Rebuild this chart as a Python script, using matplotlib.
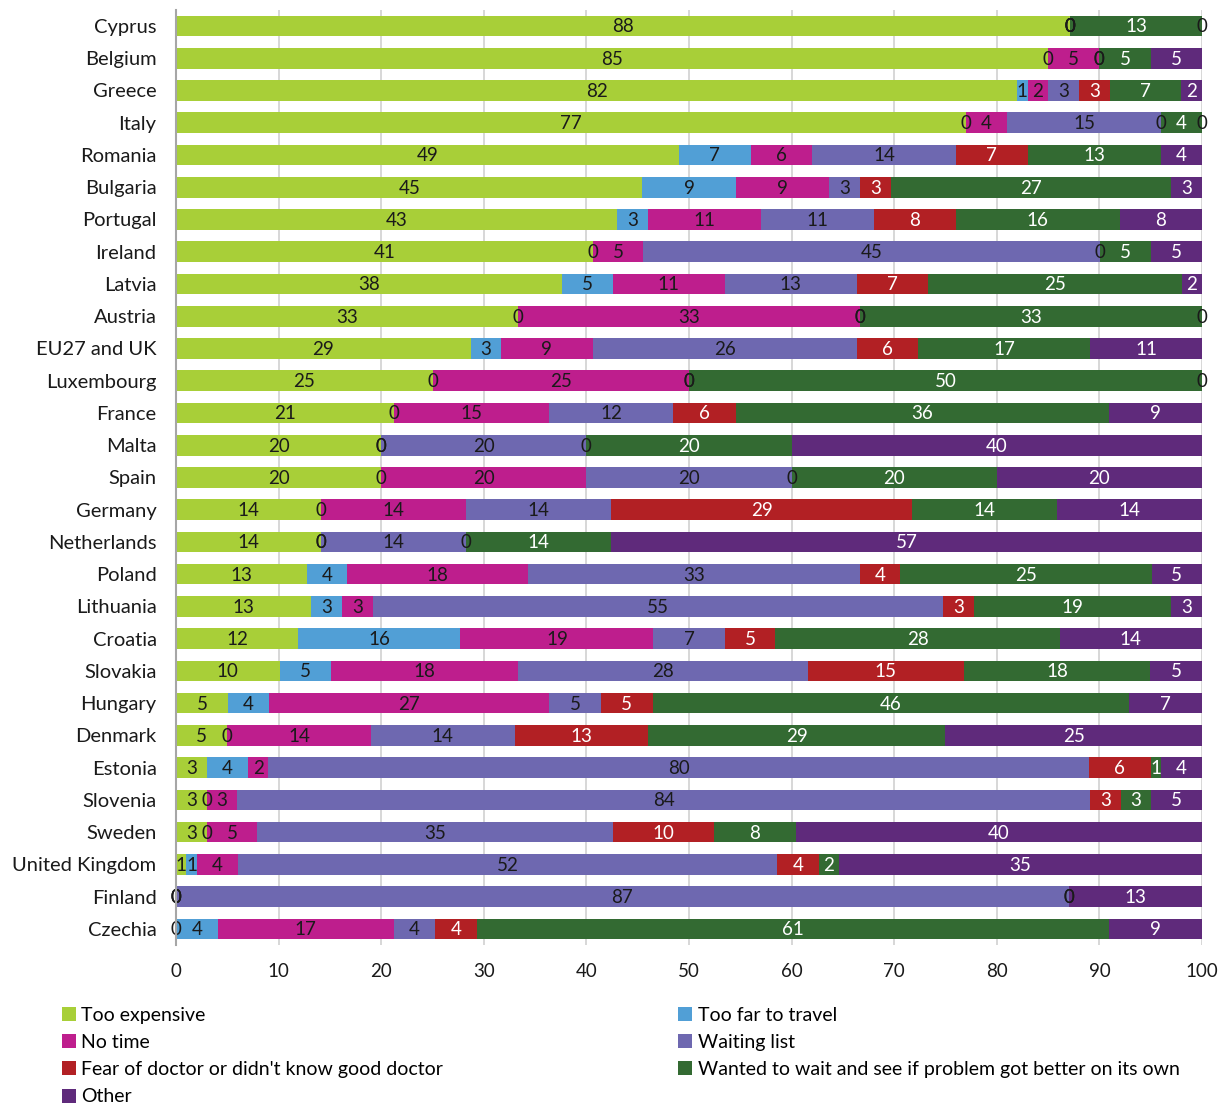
import matplotlib.pyplot as plt
from matplotlib.lines import Line2D
import numpy as np

plt.rcParams['font.family'] = ['Lato', 'DejaVu Sans']

# countries from top to bottom
countries = ["Cyprus", "Belgium", "Greece", "Italy", "Romania", "Bulgaria", "Portugal",
             "Ireland", "Latvia", "Austria", "EU27 and UK", "Luxembourg", "France", "Malta",
             "Spain", "Germany", "Netherlands", "Poland", "Lithuania", "Croatia", "Slovakia",
             "Hungary", "Denmark", "Estonia", "Slovenia", "Sweden", "United Kingdom",
             "Finland", "Czechia"]

too_expensive = [88, 85, 82, 77, 49, 45, 43, 41, 38, 33, 29, 25, 21, 20, 20, 14, 14,
                 13, 13, 12, 10, 5, 5, 3, 3, 3, 1, 0, 0]
too_far = [0, 0, 1, 0, 7, 9, 3, 0, 5, 0, 3, 0, 0, 0, 0, 0, 0,
           4, 3, 16, 5, 4, 0, 4, 0, 0, 1, 0, 4]
no_time = [0, 5, 2, 4, 6, 9, 11, 5, 11, 33, 9, 25, 15, 0, 20, 14, 0,
           18, 3, 19, 18, 27, 14, 2, 3, 5, 4, 0, 17]
waiting_list = [0, 0, 3, 15, 14, 3, 11, 45, 13, 0, 26, 0, 12, 20, 20, 14, 14,
                33, 55, 7, 28, 5, 14, 80, 84, 35, 52, 87, 4]
fear = [0, 0, 3, 0, 7, 3, 8, 0, 7, 0, 6, 0, 6, 0, 0, 29, 0,
        4, 3, 5, 15, 5, 13, 6, 3, 10, 4, 0, 4]
wait_and_see = [13, 5, 7, 4, 13, 27, 16, 5, 25, 33, 17, 50, 36, 20, 20, 14, 14,
                25, 19, 28, 18, 46, 29, 1, 3, 8, 2, 0, 61]
other = [0, 5, 2, 0, 4, 3, 8, 5, 2, 0, 11, 0, 9, 40, 20, 14, 57,
         5, 3, 14, 5, 7, 25, 4, 5, 40, 35, 13, 9]

series_names = ["Too expensive", "Too far to travel", "No time", "Waiting list",
                "Fear of doctor or didn't know good doctor",
                "Wanted to wait and see if problem got better on its own", "Other"]
colors = ["#a8cf38", "#519fd6", "#be1e8d", "#6e68b0", "#b22024", "#336a32", "#5f2a7b"]
text_colors = ["#1a1a1a", "#1a1a1a", "#1a1a1a", "#1a1a1a", "white", "white", "white"]

vals = np.array([too_expensive, too_far, no_time, waiting_list, fear,
                 wait_and_see, other]).T
pct = vals / vals.sum(axis=1, keepdims=True) * 100

fig = plt.figure(figsize=(12.26, 11.08), dpi=100)
ax = fig.add_axes([0.1436, 0.1471, 0.8368, 0.844])

y = np.arange(len(countries))
left = np.zeros(len(countries))
for j, name in enumerate(series_names):
    ax.barh(y, pct[:, j], left=left, height=0.64, color=colors[j],
            label=name, zorder=2)
    for i in range(len(countries)):
        v = vals[i, j]
        tc = text_colors[j] if v > 0 else "#1a1a1a"
        ax.text(left[i] + pct[i, j] / 2, y[i] + 0.03, str(v), ha="center", va="center",
                fontsize=13.5, color=tc, zorder=3, clip_on=False)
    left = left + pct[:, j]

ax.set_xlim(0, 100)
ax.set_ylim(len(countries) - 0.5, -0.5)
ax.set_xticks(range(0, 101, 10))
ax.set_yticks(y)
ax.set_yticklabels(countries)
ax.tick_params(axis="both", length=0, labelsize=14.5, colors="#1a1a1a")
ax.tick_params(axis="x", pad=13, labelsize=13.5)
ax.tick_params(axis="y", pad=14)
for s in ["top", "right", "bottom"]:
    ax.spines[s].set_visible(False)
ax.spines["left"].set_color("#a6a6a6")
ax.spines["left"].set_linewidth(1.5)
ax.spines["left"].set_zorder(4)
ax.grid(axis="x", color="#d4d4d4", linewidth=1.3, zorder=0)
ax.set_axisbelow(True)

# legend with square swatches, two columns filled column-wise
order = [0, 2, 4, 6, 1, 3, 5]
handles = [Line2D([], [], marker="s", linestyle="", markersize=9.5,
                  markerfacecolor=colors[k], markeredgewidth=0) for k in order]
fig.legend(handles, [series_names[k] for k in order],
           loc="upper left", bbox_to_anchor=(62 / 1226, 1 - 1007 / 1108),
           ncol=2, frameon=False, fontsize=14, borderpad=0, borderaxespad=0,
           handlelength=0.7, handletextpad=0.3,
           labelspacing=0.52, columnspacing=12.1)

fig.savefig("out.png", dpi=100)
